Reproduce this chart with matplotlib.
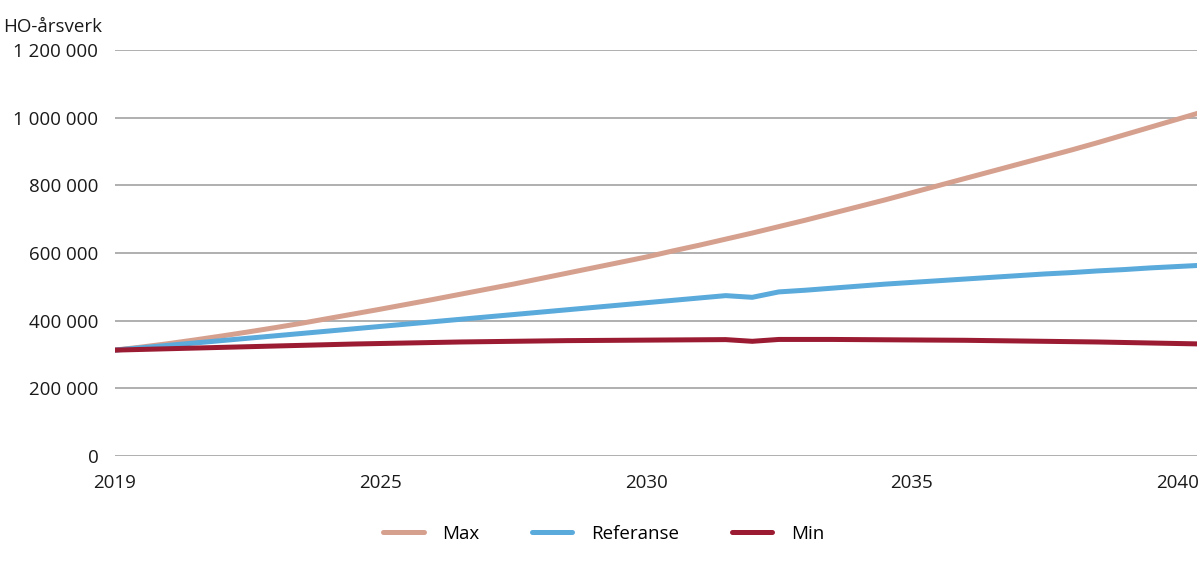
import matplotlib
matplotlib.use("Agg")
from matplotlib import pyplot as plt
import numpy as np

# Data (in 1000 HO-årsverk)
tick_labels = ["2019", "2025", "2030", "2035", "2040"]
max_vals = [313, 322, 332, 343, 354.5, 366.5, 379, 392, 406, 420,
            434, 448.5, 463, 478, 493, 508, 524, 540, 556, 572,
            588, 606, 623, 641, 659, 678, 697, 717, 737, 757,
            778, 799, 820, 841, 862, 883, 904, 926, 949, 972,
            995, 1018]
ref_vals = [313, 320, 327, 334, 341, 348, 355, 362, 369, 376,
            383, 390, 397, 404, 411, 418, 425, 432, 439, 446,
            453, 460, 467, 474, 469, 485, 490, 496, 502, 508,
            513, 518, 523, 528, 533, 538, 542, 547, 551, 556,
            560, 564]
min_vals = [313, 315, 317, 319, 321, 323, 325, 327, 329, 331,
            332.5, 334, 335.5, 337, 338, 339, 340, 341, 341.5, 342,
            342.5, 343, 343.5, 344, 339, 344.5, 344.5, 344.5, 344, 343.5,
            343, 342.5, 342, 341, 340, 339, 338, 337, 335.5, 334,
            332.5, 331]

x = np.arange(len(max_vals))

plt.rcParams["font.family"] = ["Open Sans", "DejaVu Sans"]
plt.rcParams["font.size"] = 13.5

fig = plt.figure(figsize=(12, 5.61), dpi=100)
ax = fig.add_axes([115/1200, 105/561, (1197-115)/1200, 406/561])

#Lines
ax.plot(x, np.array(max_vals)*1000, color="#D6A08F", lw=3.6, label="Max", solid_capstyle="round")
ax.plot(x, np.array(ref_vals)*1000, color="#5AAADC", lw=3.6, label="Referanse", solid_capstyle="round")
ax.plot(x, np.array(min_vals)*1000, color="#9A1B32", lw=3.6, label="Min", solid_capstyle="round")

#Axes
ax.set_xlim(0, 40.75)
ax.set_ylim(0, 1200000)
yt = np.arange(0, 1200001, 200000)
ax.set_yticks(yt)
ax.set_yticklabels([f"{v:,}".replace(",", " ") for v in yt])
ax.set_xticks([0, 10, 20, 30, 40])
ax.set_xticklabels(tick_labels)
ax.tick_params(axis="y", length=0, pad=12, colors="#1a1a1a")
ax.tick_params(axis="x", length=0, pad=13, colors="#1a1a1a")
for s in ax.spines.values():
    s.set_visible(False)
ax.grid(True, axis="y", color="#9a9a9a", lw=1.1)
ax.set_axisbelow(True)

fig.text(3/1200, 1 - 27/561, "HO-årsverk", ha="left", va="center", fontsize=13.5, color="#1a1a1a")

fig.legend(loc="center", bbox_to_anchor=(0.503, 27/561), ncol=3, frameon=False,
           handlelength=2.15, handletextpad=1.0, columnspacing=2.8)

fig.savefig("out.png", dpi=100)
